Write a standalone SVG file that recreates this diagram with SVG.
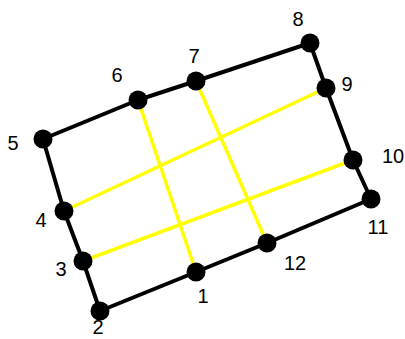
<svg xmlns="http://www.w3.org/2000/svg" width="405" height="339" viewBox="0 0 405 339">
<style>
.e{stroke:#000;stroke-width:4;fill:none;stroke-linejoin:round}
.y{stroke:#ffff00;stroke-width:3.5;fill:none}
.n circle{fill:#000}
.n text{font-family:"Liberation Sans",Arial,sans-serif;font-size:20px;fill:#000;text-anchor:middle}
</style>
<rect width="405" height="339" fill="#fff"/>
<g id="connectors">
<line class="y" x1="64" y1="211" x2="326" y2="88"/>
<line class="y" x1="83" y1="261" x2="353" y2="160"/>
<line class="y" x1="138" y1="100" x2="196" y2="272"/>
<line class="y" x1="196" y1="81" x2="267" y2="243"/>
<polygon class="e" points="43,139 138,100 196,81 310,43 326,88 353,160 371,199 267,243 196,272 100,311 83,261 64,211"/>
</g>
<g id="n1" class="n"><circle cx="196" cy="272" r="9.5"/><text x="203" y="303">1</text></g>
<g id="n2" class="n"><circle cx="100" cy="311" r="9.5"/><text x="98" y="334">2</text></g>
<g id="n3" class="n"><circle cx="83" cy="261" r="9.5"/><text x="61" y="276">3</text></g>
<g id="n4" class="n"><circle cx="64" cy="211" r="9.5"/><text x="41" y="227">4</text></g>
<g id="n5" class="n"><circle cx="43" cy="139" r="9.5"/><text x="13" y="150">5</text></g>
<g id="n6" class="n"><circle cx="138" cy="100" r="9.5"/><text x="117" y="82">6</text></g>
<g id="n7" class="n"><circle cx="196" cy="81" r="9.5"/><text x="194" y="63">7</text></g>
<g id="n8" class="n"><circle cx="310" cy="43" r="9.5"/><text x="298" y="26">8</text></g>
<g id="n9" class="n"><circle cx="326" cy="88" r="9.5"/><text x="347" y="91">9</text></g>
<g id="n10" class="n"><circle cx="353" cy="160" r="9.5"/><text x="393" y="163">10</text></g>
<g id="n11" class="n"><circle cx="371" cy="199" r="9.5"/><text x="378" y="234">11</text></g>
<g id="n12" class="n"><circle cx="267" cy="243" r="9.5"/><text x="295" y="270">12</text></g>
</svg>
